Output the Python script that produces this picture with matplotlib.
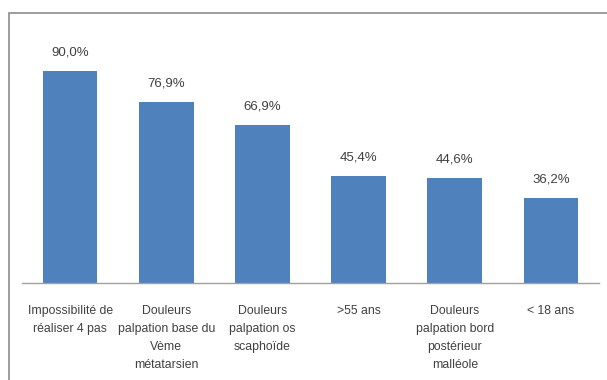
import matplotlib.pyplot as plt
from matplotlib.patches import Rectangle

categories = [
    "Impossibilité de\nréaliser 4 pas",
    "Douleurs\npalpation base du\nVème\nmétatarsien",
    "Douleurs\npalpation os\nscaphoïde",
    ">55 ans",
    "Douleurs\npalpation bord\npostérieur\nmalléole",
    "< 18 ans",
]
values = [90.0, 76.9, 66.9, 45.4, 44.6, 36.2]

plt.rcParams['font.family'] = ['Liberation Sans', 'DejaVu Sans']
txt_color = '#404040'

fig = plt.figure(figsize=(6.07, 3.80), dpi=100)
ax = fig.add_axes([22 / 607, 97 / 380, 577 / 607, 236 / 380])

x = range(len(values))
bars = ax.bar(x, values, width=0.57, color='#4F81BD', zorder=2)
for b, v in zip(bars, values):
    ax.text(b.get_x() + b.get_width() / 2, v + 5.3, f"{v:.1f}".replace('.', ',') + "%",
            ha='center', va='bottom', fontsize=9.5, color=txt_color)

ax.set_xlim(-0.5, len(values) - 0.5)
ax.set_ylim(0, 100)
ax.set_xticks(list(x))
ax.set_xticklabels(categories, fontsize=8.8, color=txt_color, linespacing=1.65)
ax.tick_params(axis='x', length=0, pad=16)
ax.set_yticks([])
for side in ['top', 'right', 'left']:
    ax.spines[side].set_visible(False)
ax.spines['bottom'].set_color('#A0A0A0')
ax.spines['bottom'].set_linewidth(1)

# outer chart frame, only its top and left edges fall inside the image
fig.patches.append(Rectangle((8.5 / 607, -0.2), 1.2, 1.2 - 12.5 / 380,
                             transform=fig.transFigure, fill=False,
                             edgecolor='#8C8C8C', linewidth=1.2))

fig.savefig('out.png', dpi=100)
